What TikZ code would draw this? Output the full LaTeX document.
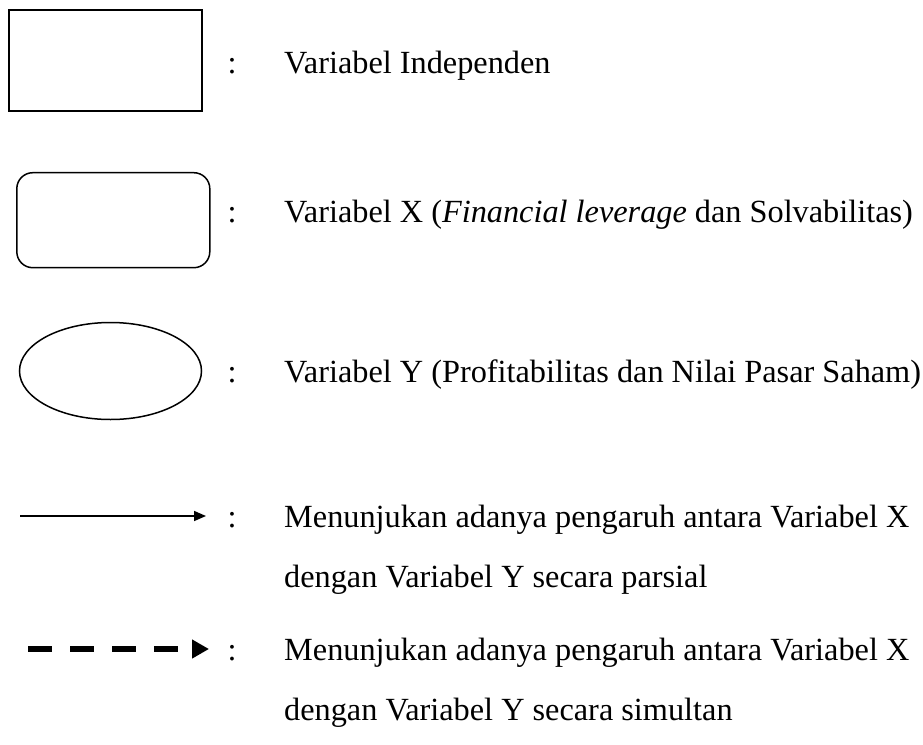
\documentclass[tikz,border=0pt]{standalone}
\usepackage{fontspec}
\setmainfont{Liberation Serif}
\usetikzlibrary{arrows.meta, shapes.geometric}

\begin{document}
\begin{tikzpicture}[
  x=1pt, y=-1pt,
  sym/.style={draw=black, line width=1.5pt, inner sep=0pt},
  box/.style={sym, rectangle, minimum width=193pt, minimum height=101pt},
  rbox/.style={sym, rectangle, rounded corners=16pt,
    minimum width=193pt, minimum height=95pt},
  oval/.style={sym, ellipse, minimum width=182pt, minimum height=97pt},
  txt/.style={font=\fontsize{32.3}{38}\selectfont, inner sep=0pt,
    anchor=base west},
  sep/.style={font=\fontsize{32.3}{38}\selectfont, inner sep=0pt,
    anchor=base},
  partial/.style={line width=1.6pt, -{Triangle[length=12pt, width=10pt]}},
  simul/.style={line width=6pt, dash pattern=on 24pt off 18pt,
    -{Triangle[length=17pt, width=18pt]}},
]
  \useasboundingbox (0,0) rectangle (923,744);

  %% Symbols
  \node[box]  (indep) at (105.5, 60.5) {};
  \node[rbox] (varx)  at (113.3, 220.2) {};
  \node[oval] (vary)  at (110.5, 371) {};

  \coordinate (pstart) at (20, 516);
  \coordinate (pend)   at (206, 516);
  \draw[partial] (pstart) -- (pend);

  \coordinate (sstart) at (28, 649);
  \coordinate (send)   at (209, 649);
  \draw[simul] (sstart) -- (send);

  %% Colons
  \foreach \y/\n in {73/c1, 222/c2, 382/c3, 527/c4, 660/c5}
    \node[sep] (\n) at (232, \y) {:};

  %% Descriptions
  \node[txt] (t1) at (284, 73)  {Variabel Independen};
  \node[txt] (t2) at (284, 222)
    {Variabel X (\textit{Financial leverage} dan Solvabilitas)};
  \node[txt] (t3) at (284, 382)
    {Variabel Y (Profitabilitas dan Nilai Pasar Saham)};
  \node[txt] (t4) at (284, 527)
    {Menunjukan adanya pengaruh antara Variabel X};
  \node[txt] (t5) at (284, 587) {dengan Variabel Y secara parsial};
  \node[txt] (t6) at (284, 660)
    {Menunjukan adanya pengaruh antara Variabel X};
  \node[txt] (t7) at (284, 720) {dengan Variabel Y secara simultan};
\end{tikzpicture}
\end{document}
